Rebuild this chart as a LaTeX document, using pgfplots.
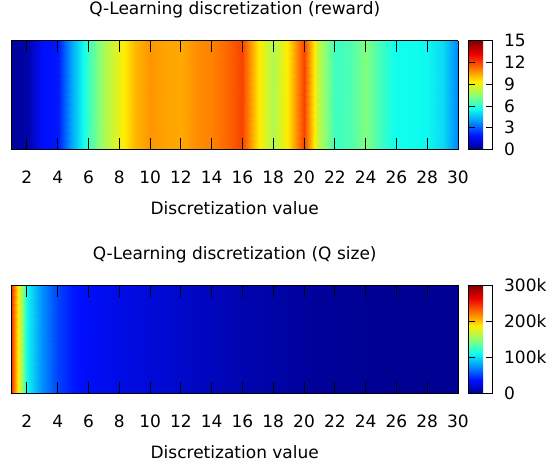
\documentclass[border=0pt]{standalone}
\usepackage{fontspec}
\setmainfont{DejaVu Sans}
\usepackage{pgfplots}
\pgfplotsset{compat=1.18}
\pgfplotsset{
  colormap={gjet}{rgb255=(0,0,144) rgb255=(0,15,255) rgb255=(0,144,255) rgb255=(15,255,238) rgb255=(144,255,112) rgb255=(255,238,0) rgb255=(255,112,0) rgb255=(238,0,0) rgb255=(127,0,0)},
  /pgf/number format/assume math mode=true,
  hm/.style={
    view={0}{90},
    scale only axis, width=446.5pt, height=108.8pt,
    xmin=1, xmax=30, ymin=0, ymax=1,
    enlargelimits=false,
    axis on top,
    xtick={2,4,...,30},
    ytick=\empty, ztick=\empty,
    xtick pos=both,
    tick align=inside,
    major tick length=11.5pt,
    tick style={black, line width=0.8pt},
    axis line style={black, line width=0.8pt},
    xticklabel style={anchor=base, yshift=-33.7pt, inner sep=0pt},
    xlabel={Discretization value},
    xlabel style={at={(axis description cs:0.5,0)}, anchor=base, yshift=-64.5pt, inner sep=0pt},
    title style={at={(axis description cs:0.5,1)}, anchor=base, yshift=20pt, inner sep=0pt},
    colormap name=gjet,
    colorbar,
  },
  cb/.style={
    at={(parent axis.north east)}, anchor=north west, xshift=2.3pt,
    scale only axis, width=23.5pt, height=108.8pt,
    ytick pos=both, yticklabel pos=right,
    tick align=inside, major tick length=6.5pt,
    tick style={black, line width=0.8pt},
    axis line style={black, line width=0.8pt},
    yticklabel style={anchor=west, inner sep=0pt, xshift=11.6pt},
    scaled y ticks=false,
  },
}
\begin{document}
\fontsize{17pt}{20pt}\selectfont
\begin{tikzpicture}
\path[use as bounding box] (0,0) rectangle (547pt,-466pt);
\begin{axis}[hm, at={(11.5pt,-40.7pt)}, anchor=north west,
  title={Q-Learning discretization (reward)},
  point meta min=0, point meta max=15,
  colorbar style={cb, ytick={0,3,6,9,12,15}}]
\addplot3[surf, shader=interp, mesh/cols=30, point meta=\thisrow{c}] table {
x y z c
1 0 0 0.2
2 0 0 0.4
3 0 0 1.8
4 0 0 2.0
5 0 0 4.3
6 0 0 6.2
7 0 0 7.9
8 0 0 9.0
9 0 0 10.2
10 0 0 10.7
11 0 0 10.5
12 0 0 10.4
13 0 0 10.8
14 0 0 11.0
15 0 0 11.4
16 0 0 12.0
17 0 0 9.5
18 0 0 8.0
19 0 0 9.6
20 0 0 12.0
21 0 0 8.2
22 0 0 6.3
23 0 0 6.5
24 0 0 7.3
25 0 0 6.3
26 0 0 5.6
27 0 0 5.6
28 0 0 5.5
29 0 0 5.0
30 0 0 3.6
1 1 0 0.2
2 1 0 0.4
3 1 0 1.8
4 1 0 2.0
5 1 0 4.3
6 1 0 6.2
7 1 0 7.9
8 1 0 9.0
9 1 0 10.2
10 1 0 10.7
11 1 0 10.5
12 1 0 10.4
13 1 0 10.8
14 1 0 11.0
15 1 0 11.4
16 1 0 12.0
17 1 0 9.5
18 1 0 8.0
19 1 0 9.6
20 1 0 12.0
21 1 0 8.2
22 1 0 6.3
23 1 0 6.5
24 1 0 7.3
25 1 0 6.3
26 1 0 5.6
27 1 0 5.6
28 1 0 5.5
29 1 0 5.0
30 1 0 3.6
};
\end{axis}
\begin{axis}[hm, at={(11.5pt,-285pt)}, anchor=north west,
  title={Q-Learning discretization (Q size)},
  point meta min=0, point meta max=300000,
  colorbar style={cb, ytick={0,100000,200000,300000}, yticklabels={0,100k,200k,300k}}]
\addplot3[surf, shader=interp, mesh/cols=30, point meta=\thisrow{c}] table {
x y z c
1 0 0 240000
2 0 0 110000
3 0 0 75000
4 0 0 52000
5 0 0 40000
6 0 0 35000
7 0 0 32000
8 0 0 29000
9 0 0 27000
10 0 0 24000
11 0 0 22000
12 0 0 20000
13 0 0 17000
14 0 0 15000
15 0 0 13000
16 0 0 11000
17 0 0 9000
18 0 0 7500
19 0 0 6000
20 0 0 4500
21 0 0 3500
22 0 0 2500
23 0 0 2000
24 0 0 1500
25 0 0 1200
26 0 0 1000
27 0 0 800
28 0 0 700
29 0 0 600
30 0 0 500
1 1 0 240000
2 1 0 110000
3 1 0 75000
4 1 0 52000
5 1 0 40000
6 1 0 35000
7 1 0 32000
8 1 0 29000
9 1 0 27000
10 1 0 24000
11 1 0 22000
12 1 0 20000
13 1 0 17000
14 1 0 15000
15 1 0 13000
16 1 0 11000
17 1 0 9000
18 1 0 7500
19 1 0 6000
20 1 0 4500
21 1 0 3500
22 1 0 2500
23 1 0 2000
24 1 0 1500
25 1 0 1200
26 1 0 1000
27 1 0 800
28 1 0 700
29 1 0 600
30 1 0 500
};
\end{axis}
\end{tikzpicture}
\end{document}
